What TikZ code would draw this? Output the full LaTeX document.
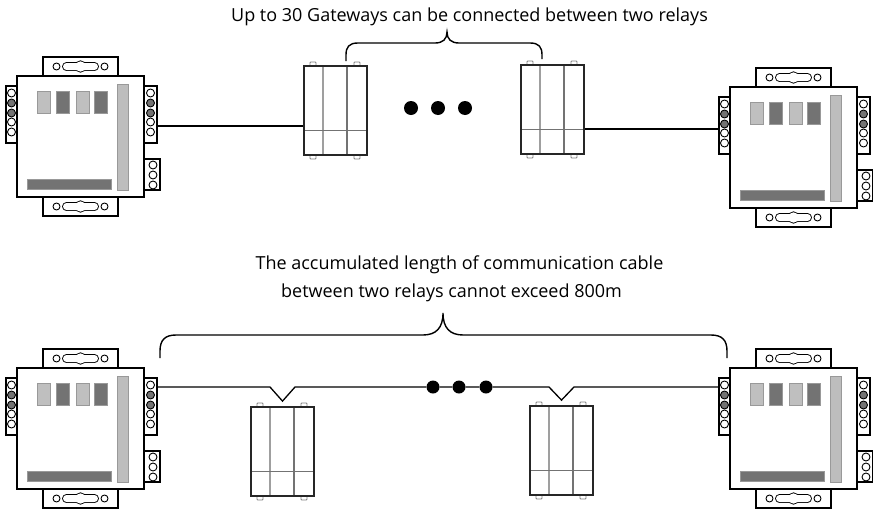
\documentclass[tikz,border=0pt]{standalone}
\usepackage{fontspec}
\setmainfont{Open Sans}
\definecolor{lg}{gray}{0.75}
\definecolor{dg}{gray}{0.45}
\definecolor{barc}{gray}{0.74}
\tikzset{
  body/.style={draw=black, line width=2pt, fill=white, inner sep=0pt, rectangle},
  term/.style={draw=black, line width=1.6pt, fill=white, inner sep=0pt, rectangle},
  tabbox/.style={draw=black, line width=1.8pt, fill=white},
  hole/.style={draw=black, line width=0.9pt, fill=white},
  gbody/.style={draw=black!85, line width=1.8pt, fill=white, inner sep=0pt, rectangle},
  gtab/.style={draw=gray, line width=0.8pt, fill=white, rounded corners=0.8pt},
  wire/.style={draw=black, line width=1.3pt},
  bracepath/.style={draw=black, line width=1.4pt},
  dotnode/.style={circle, fill=black, inner sep=0pt},
  lbl/.style={inner sep=0pt, font=\fontsize{18}{22}\selectfont}
}
\newcommand\slotmark[2]{%
  \draw[hole] (#1-24,#2) circle (3.5pt);
  \draw[hole] (#1+24,#2) circle (3.5pt);
  \draw[black, line width=1.8pt, rounded corners=3.5pt] (#1-17.5,#2-3.5) rectangle (#1+17.5,#2+3.5);
  \draw[black, line width=1.8pt] (#1,#2) circle (5.2pt);
  \fill[white, rounded corners=3.5pt] (#1-17.5,#2-3.5) rectangle (#1+17.5,#2+3.5);
  \fill[white] (#1,#2) circle (5.2pt);
}
\newcommand\relay[3]{%
\begin{scope}[shift={(#2,#3)}]
  \draw[tabbox] (26,-19) rectangle (101,0);
  \draw[tabbox] (26,121) rectangle (101,140);
  \slotmark{63.5}{-9.5}
  \slotmark{63.5}{130.5}
  \node[term, minimum width=11pt, minimum height=57pt] (#1-l) at (-5.5,38.5) {};
  \node[term, minimum width=13pt, minimum height=57pt] (#1-r) at (133.5,38.5) {};
  \node[term, minimum width=16pt, minimum height=31pt] (#1-s) at (135,98.5) {};
  \foreach \yy/\cc in {17/white,27/dg,37/dg,46/white,56/white}{
    \draw[hole, fill=\cc] (-5.5,\yy) circle (4pt);
    \draw[hole, fill=\cc] (133.5,\yy) circle (4pt);
  }
  \foreach \yy in {89,99,109}{
    \draw[hole] (136,\yy) circle (4pt);
  }
  \node[body, minimum width=127pt, minimum height=121pt] (#1) at (63.5,60.5) {};
  \filldraw[fill=lg, draw=gray!80, line width=0.6pt] (20,15) rectangle (33,37);
  \filldraw[fill=dg, draw=gray!80, line width=0.6pt] (39,15) rectangle (52,37);
  \filldraw[fill=lg, draw=gray!80, line width=0.6pt] (59,15) rectangle (72,37);
  \filldraw[fill=dg, draw=gray!80, line width=0.6pt] (77,15) rectangle (90,37);
  \filldraw[fill=barc, draw=gray!80, line width=0.6pt] (100,8) rectangle (111,114);
  \filldraw[fill=dg, draw=gray!80, line width=0.6pt] (10,103) rectangle (94,113);
\end{scope}}
\newcommand\gateway[3]{%
\begin{scope}[shift={(#2,#3)}]
  \draw[gtab] (6,-4) rectangle (12,0);
  \draw[gtab] (50,-4) rectangle (56,0);
  \draw[gtab] (6,89) rectangle (12,93);
  \draw[gtab] (50,89) rectangle (56,93);
  \node[gbody, minimum width=63pt, minimum height=89pt] (#1) at (31.5,44.5) {};
  \draw[gray!75, line width=1.2pt] (19,0) -- (19,89);
  \draw[dg, line width=1.2pt] (43,0) -- (43,89);
  \draw[dg, line width=0.9pt] (0,64) -- (63,64);
  \draw[black!85, line width=1.8pt] (0,0) rectangle (63,89);
\end{scope}}
\begin{document}
\begin{tikzpicture}[x=1pt, y=-1pt]
\useasboundingbox (0,0) rectangle (873,509);
% top row
\relay{r1}{17}{76}
\relay{r2}{730}{87}
\gateway{g1}{304}{66}
\gateway{g2}{521}{65}
\node[dotnode, minimum size=14pt] (d1) at (411,108) {};
\node[dotnode, minimum size=14pt] (d2) at (438,108) {};
\node[dotnode, minimum size=14pt] (d3) at (465,108) {};
\coordinate (w1) at (g1.west |- 0,126);
\coordinate (w2) at (g2.east |- 0,129);
\draw[wire] (r1-r.east |- w1) -- (w1);
\draw[wire] (w2) -- (r2-l.west |- w2);
\node[lbl, anchor=base] (t1) at (469.5,21) {Up to 30 Gateways can be connected between two relays};
\draw[bracepath] (346,61) -- (346,55) .. controls (346,47) and (349,43) .. (358,43) -- (435,43)
  .. controls (443,43) and (447,39) .. (447,32) .. controls (447,39) and (451,43) .. (459,43)
  -- (530,43) .. controls (539,43) and (542,47) .. (542,55) -- (542,59);
% bottom row
\relay{r3}{17}{368}
\relay{r4}{730}{368}
\gateway{g3}{251}{407}
\gateway{g4}{530}{406}
\node[dotnode, minimum size=13pt] (d4) at (433,387) {};
\node[dotnode, minimum size=13pt] (d5) at (459,387) {};
\node[dotnode, minimum size=13pt] (d6) at (486,387) {};
\coordinate (v3) at ([yshift=5pt]g3.north);
\coordinate (v4) at ([yshift=5pt]g4.north);
\coordinate (w3) at (r3-r.east |- 0,387);
\coordinate (w4) at (r4-l.west |- 0,387);
\draw[wire] (w3) -- ([xshift=-12.5pt]v3 |- w3) -- (v3) -- ([xshift=12.5pt]v3 |- w3) -- (d4) -- (d5) -- (d6)
  -- ([xshift=-12.5pt]v4 |- w4) -- (v4) -- ([xshift=12.5pt]v4 |- w4) -- (w4);
\node[lbl, anchor=base] (t2) at (459.5,269) {The accumulated length of communication cable};
\node[lbl, anchor=base] (t3) at (451.5,297) {between two relays cannot exceed 800m};
\draw[bracepath] (160,358) -- (160,351) .. controls (160,340) and (165,335) .. (176,335) -- (423,335)
  .. controls (436,335) and (443,328) .. (443,313) .. controls (443,328) and (450,335) .. (463,335)
  -- (711,335) .. controls (722,335) and (727,340) .. (727,351) -- (727,358);
\end{tikzpicture}
\end{document}
